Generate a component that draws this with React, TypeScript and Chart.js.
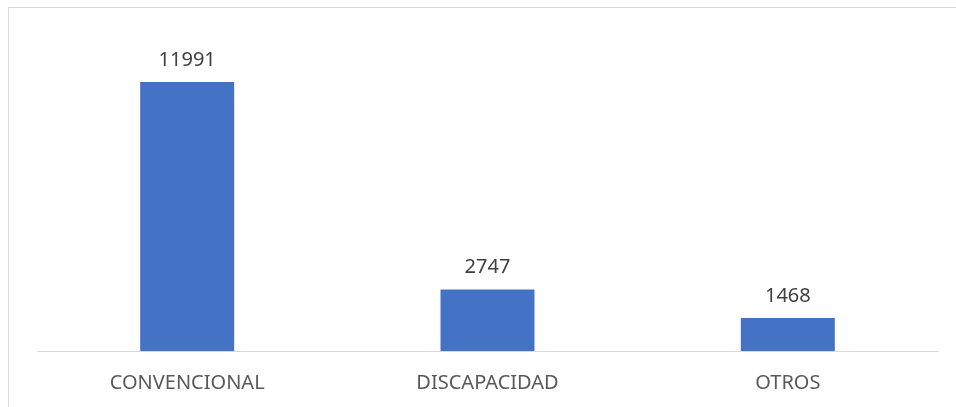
import React, { useEffect, useRef } from "react";
import { Chart, registerables } from "chart.js";

Chart.register(...registerables);

const categories: string[] = ["CONVENCIONAL", "DISCAPACIDAD", "OTROS"];
const values: number[] = [11991, 2747, 1468];
const yMax = 14000;

const FONT = "'Noto Sans', 'Open Sans', sans-serif";

const valueLabels = {
  id: "valueLabels",
  afterDatasetsDraw(chart: any) {
    const ctx = chart.ctx;
    const meta = chart.getDatasetMeta(0);
    ctx.save();
    ctx.font = `20px ${FONT}`;
    ctx.fillStyle = "#404040";
    ctx.textAlign = "center";
    ctx.textBaseline = "alphabetic";
    meta.data.forEach((bar: any, i: number) => {
      ctx.fillText(String(values[i]), bar.x, bar.y - 16.5);
    });
    ctx.restore();
  },
};

export default function App() {
  const ref = useRef<HTMLCanvasElement | null>(null);
  useEffect(() => {
    if (!ref.current) return;
    const chart = new Chart(ref.current, {
      type: "bar",
      data: {
        labels: categories,
        datasets: [
          {
            data: values,
            backgroundColor: "#4472C4",
            borderWidth: 0,
            barPercentage: 0.626,
            categoryPercentage: 0.5,
          },
        ],
      },
      options: {
        animation: false,
        responsive: true,
        maintainAspectRatio: false,
        layout: { padding: { left: 28, right: 18, top: 29, bottom: 0 } },
        plugins: {
          legend: { display: false },
          tooltip: { enabled: false },
        },
        scales: {
          x: {
            grid: { display: false, drawTicks: false },
            border: { display: true, color: "#d9d9d9", width: 1 },
            ticks: {
              color: "#595959",
              font: { family: FONT, size: 20 },
              padding: 20,
            },
          },
          y: {
            display: false,
            min: 0,
            max: yMax,
          },
        },
      },
      plugins: [valueLabels],
    });
    return () => chart.destroy();
  }, []);

  return (
    <div
      style={{
        position: "fixed",
        left: 8,
        top: 7,
        width: 948,
        height: 400,
        boxSizing: "border-box",
        borderLeft: "1px solid #d9d9d9",
        borderTop: "1px solid #d9d9d9",
        overflow: "hidden",
        background: "#fff",
      }}
    >
      <div style={{ position: "relative", width: 947, height: 407 }}>
        <canvas ref={ref} />
      </div>
    </div>
  );
}
